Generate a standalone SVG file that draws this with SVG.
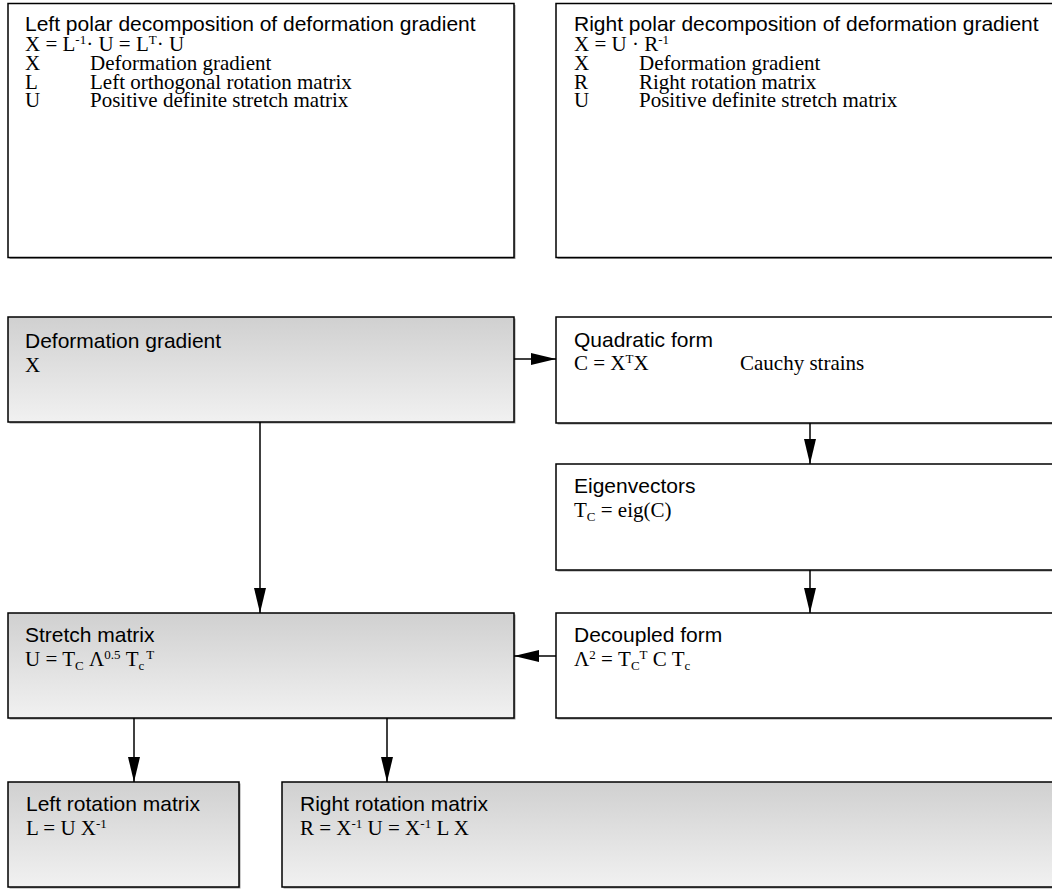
<svg xmlns="http://www.w3.org/2000/svg" width="1052" height="889" viewBox="0 0 1052 889">
<style>
.box{stroke:#000;stroke-width:1.5}
.plain{fill:#fff}
.shade{fill:url(#g)}
.shadow{fill:#9a9a9a}
.h{font-family:"Liberation Sans",Arial,sans-serif;font-size:21px;fill:#000}
.f{font-family:"Liberation Serif","Times New Roman",serif;font-size:21px;fill:#000}
.s{font-size:13px}
.con{stroke:#000;stroke-width:1.5;fill:none}
</style>
<defs>
<linearGradient id="g" x1="0" y1="0" x2="0" y2="1">
<stop offset="0" stop-color="#d0d0d0"/>
<stop offset="1" stop-color="#f1f1f1"/>
</linearGradient>
<marker id="a" viewBox="0 0 25 12" refX="25" refY="6" markerWidth="25" markerHeight="12" markerUnits="userSpaceOnUse" orient="auto">
<path d="M0,0 L25,6 L0,12 Z" fill="#000"/>
</marker>
</defs>
<rect width="1052" height="889" fill="#fff"/>

<g id="left-polar">
<rect class="shadow" x="9.5" y="5" width="506" height="254"/>
<rect class="box plain" x="8" y="3.5" width="506" height="254"/>
<text class="h" x="25" y="31">Left polar decomposition of deformation gradient</text>
<text class="f" x="25" y="51">X = L<tspan class="s" dy="-7">-1</tspan><tspan dy="7">· U = L</tspan><tspan class="s" dy="-7">T</tspan><tspan dy="7">· U</tspan></text>
<text class="f" x="25" y="70">X</text><text class="f" x="90" y="70">Deformation gradient</text>
<text class="f" x="25" y="89">L</text><text class="f" x="90" y="89">Left orthogonal rotation matrix</text>
<text class="f" x="25" y="107">U</text><text class="f" x="90" y="107">Positive definite stretch matrix</text>
</g>

<g id="right-polar">
<rect class="shadow" x="557.5" y="5" width="510" height="254"/>
<rect class="box plain" x="556" y="3.5" width="510" height="254"/>
<text class="h" x="574" y="31">Right polar decomposition of deformation gradient</text>
<text class="f" x="574" y="51">X = U · R<tspan class="s" dy="-7">-1</tspan></text>
<text class="f" x="574" y="70">X</text><text class="f" x="639" y="70">Deformation gradient</text>
<text class="f" x="574" y="89">R</text><text class="f" x="639" y="89">Right rotation matrix</text>
<text class="f" x="574" y="107">U</text><text class="f" x="639" y="107">Positive definite stretch matrix</text>
</g>

<g id="deformation-gradient">
<rect class="shadow" x="9.5" y="318.5" width="506" height="105"/>
<rect class="box shade" x="8" y="317" width="506" height="105"/>
<text class="h" x="25" y="348">Deformation gradient</text>
<text class="f" x="25" y="372">X</text>
</g>

<g id="quadratic-form">
<rect class="shadow" x="557.5" y="318.5" width="510" height="106"/>
<rect class="box plain" x="556" y="317" width="510" height="106"/>
<text class="h" x="574" y="347">Quadratic form</text>
<text class="f" x="574" y="370">C = X<tspan class="s" dy="-7">T</tspan><tspan dy="7">X</tspan></text>
<text class="f" x="740" y="370">Cauchy strains</text>
</g>

<g id="eigenvectors">
<rect class="shadow" x="557.5" y="465.5" width="510" height="106"/>
<rect class="box plain" x="556" y="464" width="510" height="106"/>
<text class="h" x="574" y="493">Eigenvectors</text>
<text class="f" x="574" y="517">T<tspan class="s" dy="4">C</tspan><tspan dy="-4"> = eig(C)</tspan></text>
</g>

<g id="decoupled-form">
<rect class="shadow" x="557.5" y="614.5" width="510" height="105"/>
<rect class="box plain" x="556" y="613" width="510" height="105"/>
<text class="h" x="574" y="642">Decoupled form</text>
<text class="f" x="574" y="666">Λ<tspan class="s" dy="-7">2</tspan><tspan dy="7"> = T</tspan><tspan class="s" dy="4">C</tspan><tspan class="s" dy="-11">T</tspan><tspan dy="7"> C T</tspan><tspan class="s" dy="4">c</tspan></text>
</g>

<g id="stretch-matrix">
<rect class="shadow" x="9.5" y="614.5" width="506" height="105"/>
<rect class="box shade" x="8" y="613" width="506" height="105"/>
<text class="h" x="25" y="642">Stretch matrix</text>
<text class="f" x="25" y="666">U = T<tspan class="s" dy="4">C</tspan><tspan dy="-4"> Λ</tspan><tspan class="s" dy="-7">0.5</tspan><tspan dy="7"> T</tspan><tspan class="s" dy="4">c</tspan><tspan class="s" dx="2" dy="-11">T</tspan></text>
</g>

<g id="left-rotation">
<rect class="shadow" x="9.5" y="783.5" width="231" height="105"/>
<rect class="box shade" x="8" y="782" width="231" height="105"/>
<text class="h" x="26" y="811">Left rotation matrix</text>
<text class="f" x="26" y="835">L = U X<tspan class="s" dy="-7">-1</tspan></text>
</g>

<g id="right-rotation">
<rect class="shadow" x="283.5" y="783.5" width="790" height="105"/>
<rect class="box shade" x="282" y="782" width="790" height="105"/>
<text class="h" x="300" y="811">Right rotation matrix</text>
<text class="f" x="300" y="835">R = X<tspan class="s" dy="-7">-1</tspan><tspan dy="7"> U = X</tspan><tspan class="s" dy="-7">-1</tspan><tspan dy="7"> L X</tspan></text>
</g>

<g id="connectors">
<line class="con" x1="514" y1="359" x2="556" y2="359" marker-end="url(#a)"/>
<line class="con" x1="810" y1="423" x2="810" y2="464" marker-end="url(#a)"/>
<line class="con" x1="810" y1="570" x2="810" y2="613" marker-end="url(#a)"/>
<line class="con" x1="556" y1="656" x2="514" y2="656" marker-end="url(#a)"/>
<line class="con" x1="260" y1="422" x2="260" y2="613" marker-end="url(#a)"/>
<line class="con" x1="134" y1="718" x2="134" y2="782" marker-end="url(#a)"/>
<line class="con" x1="387" y1="718" x2="387" y2="782" marker-end="url(#a)"/>
</g>
</svg>
